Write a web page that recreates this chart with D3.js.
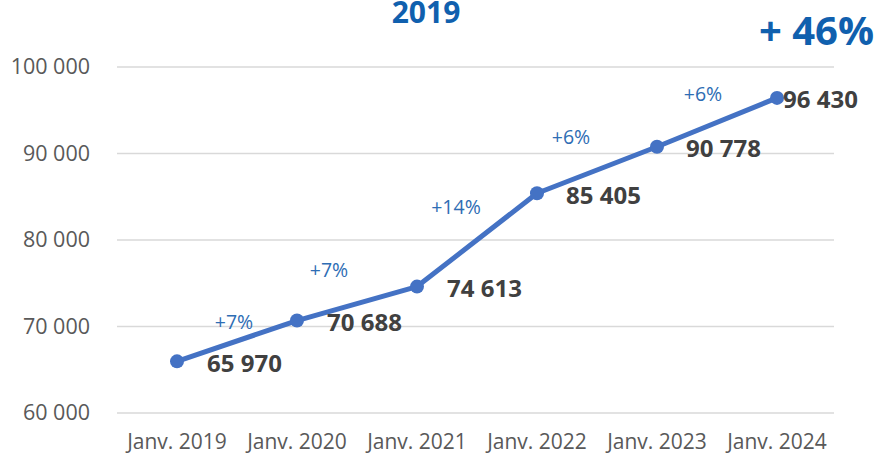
<!DOCTYPE html>
<html>
<head>
<meta charset="utf-8">
<script src="https://cdn.jsdelivr.net/npm/d3@7"></script>
<style>
  body { margin: 0; background: #fff; }
  text { font-family: "Open Sans", sans-serif; }
</style>
</head>
<body>
<script>
let width = 878,
  height = 455

// data
let categories = ['Janv. 2019', 'Janv. 2020', 'Janv. 2021', 'Janv. 2022', 'Janv. 2023', 'Janv. 2024']
let values = [65970, 70688, 74613, 85405, 90778, 96430]
let growthLabels = ['+7%', '+7%', '+14%', '+6%', '+6%']
let yTicks = [60000, 70000, 80000, 90000, 100000]

// label nudges (layout only)
let growthOffsets = [[-3, -19], [-28, -33], [-21, -33], [-26, -33], [-14, -28]]
let valueOffsets = [30, 30, 30, 29, 29, 6]

let fmt = d => d3.format(',')(d).replace(/,/g, ' ')

let svg = d3.select('body').append('svg')
  .attr('width', width)
  .attr('height', height)

let x = d3.scaleBand()
  .domain(categories)
  .range([117, 837])

let y = d3.scaleLinear()
  .domain([60000, 100000])
  .range([413, 67])

// grid lines
svg.append('g')
  .selectAll('line')
  .data(yTicks)
  .enter().append('line')
  .attr('x1', 117)
  .attr('x2', 834)
  .attr('y1', d => y(d))
  .attr('y2', d => y(d))
  .attr('stroke', '#d9d9d9')
  .attr('stroke-width', 1.3)

// y axis labels
let yAxis = svg.append('g')
  .attr('transform', 'translate(90,0)')
  .call(d3.axisLeft(y).tickValues(yTicks).tickFormat(fmt).tickSize(0).tickPadding(0))
yAxis.select('.domain').remove()
yAxis.selectAll('text')
  .attr('font-size', 21.5)
  .attr('fill', '#595959')
  .attr('font-family', '"Open Sans", sans-serif')

// x axis labels
let xAxis = svg.append('g')
  .attr('transform', 'translate(0,434)')
  .call(d3.axisBottom(x).tickSize(0).tickPadding(0))
xAxis.select('.domain').remove()
xAxis.selectAll('text')
  .attr('font-size', 21)
  .attr('fill', '#595959')
  .attr('font-family', '"Open Sans", sans-serif')

let cx = d => x(d) + x.bandwidth() / 2

// line
let line = d3.line()
  .x((d, i) => cx(categories[i]))
  .y(d => y(d))

svg.append('path')
  .datum(values)
  .attr('d', line)
  .attr('fill', 'none')
  .attr('stroke', '#4472C4')
  .attr('stroke-width', 5)
  .attr('stroke-linejoin', 'round')

svg.append('g')
  .selectAll('circle')
  .data(values)
  .enter().append('circle')
  .attr('cx', (d, i) => cx(categories[i]))
  .attr('cy', d => y(d))
  .attr('r', 7)
  .attr('fill', '#4472C4')

// value labels
svg.append('g')
  .selectAll('text')
  .data(values)
  .enter().append('text')
  .attr('x', (d, i) => cx(categories[i]) + valueOffsets[i])
  .attr('y', d => y(d) + 2)
  .attr('dy', '0.35em')
  .attr('font-size', 24)
  .attr('font-weight', 700)
  .attr('fill', '#404040')
  .text(fmt)

// growth labels
svg.append('g')
  .selectAll('text')
  .data(growthLabels)
  .enter().append('text')
  .attr('x', (d, i) => (cx(categories[i]) + cx(categories[i + 1])) / 2 + growthOffsets[i][0])
  .attr('y', (d, i) => (y(values[i]) + y(values[i + 1])) / 2 + growthOffsets[i][1])
  .attr('dy', '0.35em')
  .attr('text-anchor', 'middle')
  .attr('font-size', 19.5)
  .attr('fill', '#2E6DB4')
  .text(d => d)

// title bits
svg.append('text')
  .attr('x', 426)
  .attr('y', 23)
  .attr('text-anchor', 'middle')
  .attr('font-size', 30)
  .attr('font-weight', 700)
  .attr('fill', '#1060AE')
  .text('2019')

svg.append('text')
  .attr('x', 874)
  .attr('y', 45)
  .attr('text-anchor', 'end')
  .attr('font-size', 40)
  .attr('font-weight', 700)
  .attr('fill', '#1060AE')
  .text('+ 46%')
</script>
</body>
</html>
